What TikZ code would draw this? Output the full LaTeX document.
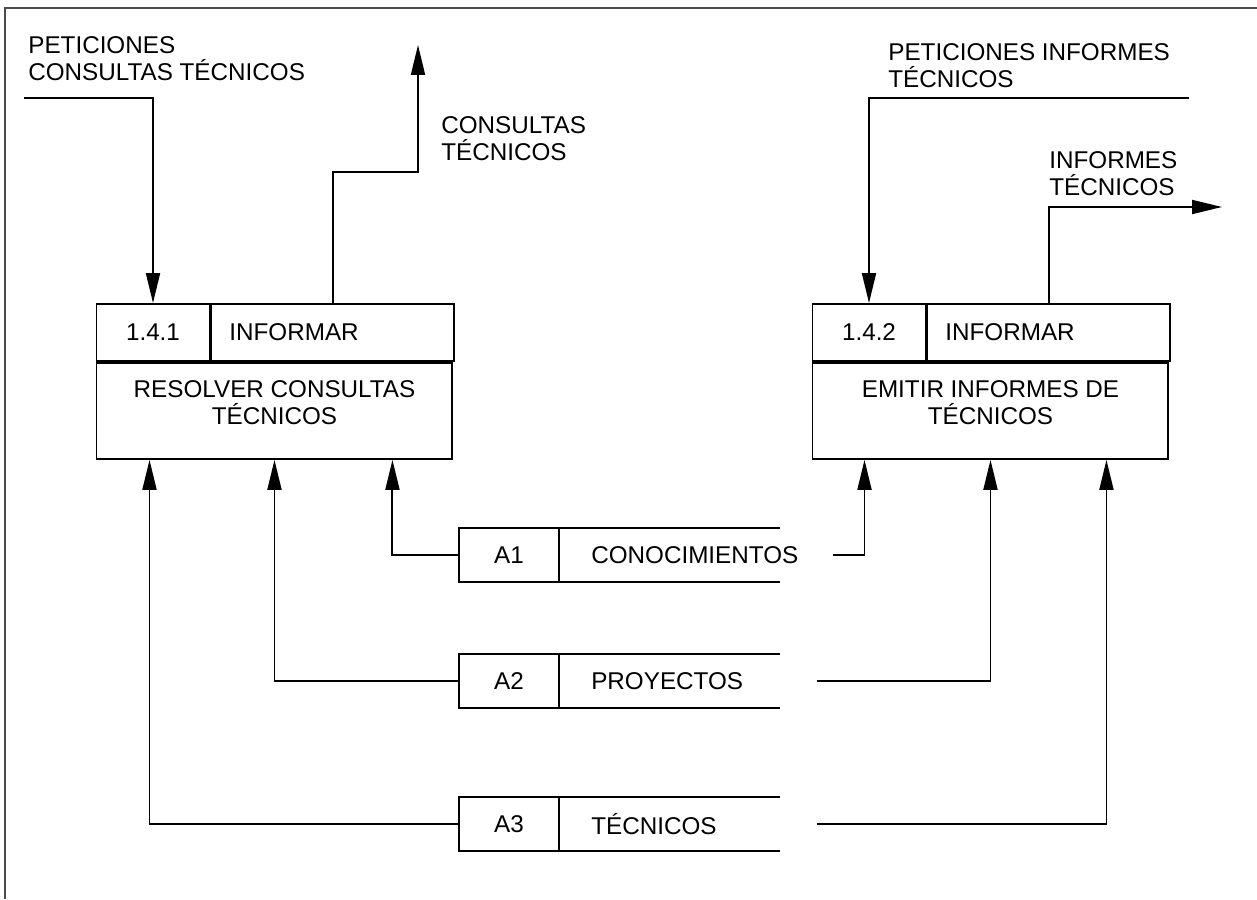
\documentclass[tikz,border=0pt]{standalone}
\usepackage{fontspec}
\setmainfont{Liberation Sans}
\usepackage{tikz}
\usetikzlibrary{arrows.meta}
\usetikzlibrary{positioning}
\tikzset{flow/.style = {-{Triangle[length=0.6cm,width=0.28cm]}, line width=1.1pt},
         boxline/.style = {line width=1.1pt},
         procid/.style = {draw, boxline, minimum width=2.26cm, minimum height=1.14cm, inner sep=0pt},
         proctitle/.style = {draw, boxline, minimum width=4.86cm, minimum height=1.14cm,
                             text width=4.14cm, inner xsep=0.36cm, inner ysep=0pt, align=left},
         procbody/.style = {draw, boxline, minimum width=7.12cm, minimum height=1.92cm},
         bodytext/.style = {align=center, inner sep=0pt},
         storeid/.style = {draw, boxline, minimum width=2cm, minimum height=1.08cm, inner sep=0pt},
         storename/.style = {minimum width=4.38cm, minimum height=1.08cm,
                             text width=3.14cm, inner xsep=0.62cm, inner ysep=0pt, align=left},
         flowlabel/.style = {anchor=west, align=left, inner sep=0pt}}

\begin{document}
\begin{tikzpicture}[x=0.02cm, y=-0.02cm, font=\fontsize{13.8}{15.5}\selectfont]
    \useasboundingbox (0,0) rectangle (1257,899);
    \draw [line width=1.4pt, black!70] (5,899) -- (5,8) -- (1257,8);

    \node [procid] (p1id) at (153,332.5) {1.4.1};
    \node [proctitle, right=0pt of p1id] (p1t) {INFORMAR};
    \node [procbody, anchor=north west] (p1b) at (p1id.south west) {};
    \node [bodytext] (p1txt) at ([yshift=0.17cm]p1b.center) {RESOLVER CONSULTAS\\TÉCNICOS};

    \node [procid] (p2id) at (869,332.5) {1.4.2};
    \node [proctitle, right=0pt of p2id] (p2t) {INFORMAR};
    \node [procbody, anchor=north west] (p2b) at (p2id.south west) {};
    \node [bodytext] (p2txt) at ([yshift=0.17cm]p2b.center) {EMITIR INFORMES DE\\TÉCNICOS};

    \foreach \i/\y/\name in {1/555/CONOCIMIENTOS, 2/681/PROYECTOS, 3/824/TÉCNICOS} {
      \node [storeid] (st\i) at (509,\y) {A\i};
      \node [storename, right=0pt of st\i] (stname\i) {\name};
      \draw [boxline] (stname\i.north west) -- (stname\i.north east)
                      (stname\i.south west) -- (stname\i.south east);
    }

    \draw [flow] (st1.west) -| ([xshift=2.36cm]p1b.south);
    \draw [flow] (st2.west) -| (p1b.south);
    \draw [flow] (st3.west) -| ([xshift=-2.5cm]p1b.south);
    \draw [flow] ([xshift=1.06cm]stname1.east) -| ([xshift=-2.52cm]p2b.south);
    \draw [flow] ([xshift=0.74cm]stname2.east) -| (p2b.south);
    \draw [flow] ([xshift=0.74cm]stname3.east) -| ([xshift=2.32cm]p2b.south);

    \coordinate (in1) at (24,98);
    \draw [flow] (in1) -| (p1id.north);
    \coordinate (out1) at (418,45);
    \draw [flow] (p1t.north) -- ++(0,-131) -| (out1);
    \coordinate (in2) at (1189,98);
    \draw [flow] (in2) -| (p2id.north);
    \coordinate (out2) at (1222,207);
    \draw [flow] (p2t.north) |- (out2);

    \node [flowlabel] (lin1) at (28,58.5) {PETICIONES\\CONSULTAS TÉCNICOS};
    \node [flowlabel] (lout1) at (441,138.5) {CONSULTAS\\TÉCNICOS};
    \node [flowlabel] (lin2) at (888,66) {PETICIONES INFORMES\\TÉCNICOS};
    \node [flowlabel] (lout2) at (1049,174) {INFORMES\\TÉCNICOS};
  \end{tikzpicture}
\end{document}
